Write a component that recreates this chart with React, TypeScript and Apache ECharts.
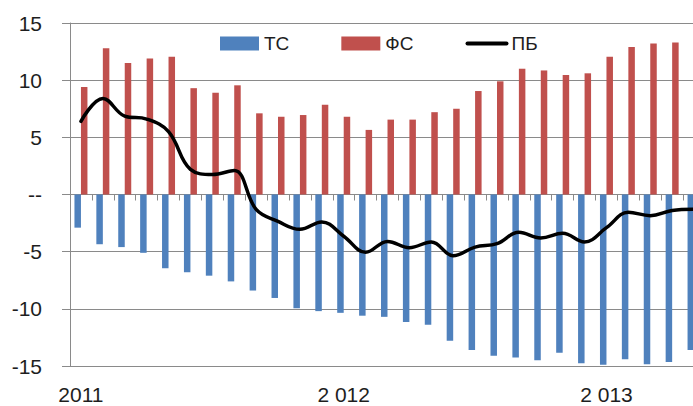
import React, { useEffect, useRef } from "react";
import * as echarts from "echarts";

const categories = [
  "2011-01", "2011-02", "2011-03", "2011-04", "2011-05", "2011-06", "2011-07", "2011-08", "2011-09", "2011-10", "2011-11", "2011-12",
  "2012-01", "2012-02", "2012-03", "2012-04", "2012-05", "2012-06", "2012-07", "2012-08", "2012-09", "2012-10", "2012-11", "2012-12",
  "2013-01", "2013-02", "2013-03", "2013-04", "2013-05",
];

const xTickLabels: Record<string, string> = {
  "2011-01": "2011",
  "2012-01": "2 012",
  "2013-01": "2 013",
};

const tcValues = [
  -2.9, -4.35, -4.6, -5.1, -6.45, -6.8, -7.1, -7.6, -8.4, -9.05, -9.95, -10.2,
  -10.35, -10.6, -10.7, -11.15, -11.4, -12.8, -13.6, -14.1, -14.25, -14.5, -13.85, -14.75,
  -14.9, -14.4, -14.85, -14.65, -13.6,
];

const fsValues = [
  9.4, 12.8, 11.5, 11.9, 12.05, 9.3, 8.9, 9.55, 7.1, 6.8, 6.95, 7.85,
  6.8, 5.65, 6.55, 6.55, 7.2, 7.5, 9.05, 9.9, 11.0, 10.85, 10.45, 10.6,
  12.05, 12.9, 13.2, 13.3, null,
];

const pbValues = [
  6.4, 8.4, 6.85, 6.6, 5.5, 2.2, 1.75, 2.1, -1.3, -2.35, -3.05, -2.4,
  -3.65, -5.05, -4.1, -4.65, -4.15, -5.35, -4.6, -4.3, -3.3, -3.8, -3.4, -4.15,
  -2.9, -1.55, -1.85, -1.4, -1.3,
];

const seriesNames = ["ТС", "ФС", "ПБ"];

const FONT = "'Liberation Sans Narrow', 'Liberation Sans', Arial, sans-serif";
const GRID_COLOR = "#8a8a8a";
const TEXT_COLOR = "#1e1e1e";

export default function App() {
  const ref = useRef<HTMLDivElement>(null);

  useEffect(() => {
    if (!ref.current) return;
    const chart = echarts.init(ref.current, undefined, { renderer: "svg" });
    chart.setOption({
      animation: false,
      backgroundColor: "#ffffff",
      legend: {
        left: 220,
        top: 34,
        padding: 0,
        itemWidth: 39,
        itemHeight: 14,
        itemGap: 52,
        textStyle: { fontFamily: FONT, fontSize: 19, color: TEXT_COLOR },
        data: [
          { name: seriesNames[0], icon: "rect" },
          { name: seriesNames[1], icon: "rect" },
          {
            name: seriesNames[2],
            itemStyle: { opacity: 0 },
            lineStyle: { width: 4, color: "#000000", cap: "round" },
          },
        ],
      },
      grid: { left: 70, right: -12, top: 23, bottom: 40, outerBoundsMode: "none", containLabel: false },
      xAxis: {
        type: "category",
        data: categories,
        boundaryGap: true,
        axisLine: { onZero: true, lineStyle: { color: GRID_COLOR, width: 1 } },
        axisTick: { show: true, interval: 0, length: 6, lineStyle: { color: GRID_COLOR } },
        axisLabel: {
          interval: 0,
          margin: 18,
          fontFamily: FONT,
          fontSize: 21,
          color: TEXT_COLOR,
          formatter: (v: string) => xTickLabels[v] ?? "",
        },
        splitLine: { show: false },
      },
      yAxis: {
        type: "value",
        min: -15,
        max: 15,
        interval: 5,
        axisLine: { show: true, lineStyle: { color: GRID_COLOR, width: 1 } },
        axisTick: { show: true, length: 8, lineStyle: { color: GRID_COLOR } },
        axisLabel: {
          margin: 28,
          fontFamily: FONT,
          fontSize: 21,
          color: TEXT_COLOR,
          formatter: (v: number) => (v === 0 ? "--" : String(v)),
        },
        splitLine: { show: true, lineStyle: { color: GRID_COLOR, width: 1 } },
      },
      series: [
        {
          name: seriesNames[0],
          type: "bar",
          data: tcValues,
          barWidth: 6.5,
          barGap: "0%",
          itemStyle: { color: "#4f81bd" },
        },
        {
          name: seriesNames[1],
          type: "bar",
          data: fsValues,
          barWidth: 6.5,
          barGap: "0%",
          itemStyle: { color: "#c0504d" },
        },
        {
          name: seriesNames[2],
          type: "line",
          data: pbValues,
          smooth: 0.4,
          symbol: "none",
          z: 5,
          lineStyle: { color: "#000000", width: 3.5, cap: "round" },
          itemStyle: { color: "#000000" },
        },
      ],
    });
    return () => chart.dispose();
  }, []);

  return (
    <div
      ref={ref}
      style={{ position: "fixed", left: 0, top: 0, width: 693, height: 406, overflow: "hidden" }}
    />
  );
}
